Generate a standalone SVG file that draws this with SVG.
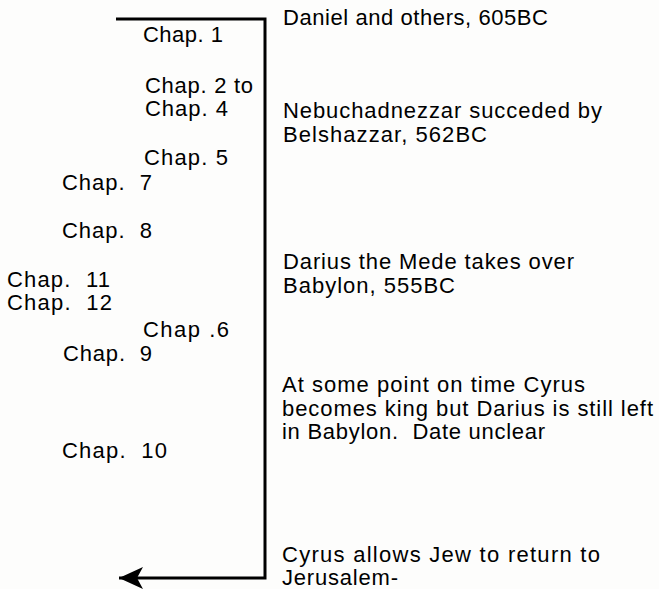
<svg xmlns="http://www.w3.org/2000/svg" width="659" height="589" viewBox="0 0 659 589" xml:space="preserve">
  <style>
    text { font-family: "Liberation Sans", Arial, sans-serif; font-size: 22px; fill: #000; white-space: pre; }
    .conn { fill: none; stroke: #000; stroke-width: 3; stroke-linejoin: miter; }
  </style>
  <defs>
    <marker id="arrow" markerUnits="userSpaceOnUse" markerWidth="26" markerHeight="24" refX="24" refY="11" orient="auto">
      <path d="M0,0 L24,11 L0,22 L6,11 Z" fill="#000"/>
    </marker>
  </defs>
  <rect width="659" height="589" fill="#fdfdfc"/>

  <!-- timeline bracket -->
  <g id="connectors">
    <path class="conn" d="M116,19 H265 V578 H119" marker-end="url(#arrow)"/>
  </g>

  <!-- chapter labels -->
  <g id="chap1"><text x="143" y="42" textLength="80" lengthAdjust="spacing">Chap. 1</text></g>
  <g id="chap2to4">
    <text x="145" y="93" textLength="108" lengthAdjust="spacing">Chap. 2 to</text>
    <text x="145" y="116" textLength="83" lengthAdjust="spacing">Chap. 4</text>
  </g>
  <g id="chap5"><text x="144" y="165" textLength="84" lengthAdjust="spacing">Chap. 5</text></g>
  <g id="chap7"><text x="62" y="190" textLength="90" lengthAdjust="spacing">Chap.  7</text></g>
  <g id="chap8"><text x="62" y="238" textLength="90" lengthAdjust="spacing">Chap.  8</text></g>
  <g id="chap11"><text x="7" y="287" textLength="103" lengthAdjust="spacing">Chap.  11</text></g>
  <g id="chap12"><text x="7" y="310" textLength="105" lengthAdjust="spacing">Chap.  12</text></g>
  <g id="chap6"><text x="143" y="337" textLength="86" lengthAdjust="spacing">Chap .6</text></g>
  <g id="chap9"><text x="63" y="361" textLength="89" lengthAdjust="spacing">Chap.  9</text></g>
  <g id="chap10"><text x="62" y="458" textLength="105" lengthAdjust="spacing">Chap.  10</text></g>

  <!-- events -->
  <g id="event-605"><text x="283" y="25" textLength="265" lengthAdjust="spacing">Daniel and others, 605BC</text></g>
  <g id="event-562">
    <text x="283" y="118" textLength="319" lengthAdjust="spacing">Nebuchadnezzar succeded by</text>
    <text x="283" y="142" textLength="204" lengthAdjust="spacing">Belshazzar, 562BC</text>
  </g>
  <g id="event-555">
    <text x="283" y="269" textLength="291" lengthAdjust="spacing">Darius the Mede takes over</text>
    <text x="283" y="293" textLength="172" lengthAdjust="spacing">Babylon, 555BC</text>
  </g>
  <g id="event-cyrus">
    <text x="282" y="392" textLength="303" lengthAdjust="spacing">At some point on time Cyrus</text>
    <text x="282" y="415.5" textLength="371" lengthAdjust="spacing">becomes king but Darius is still left</text>
    <text x="282" y="439" textLength="263" lengthAdjust="spacing">in Babylon.  Date unclear</text>
  </g>
  <g id="event-return">
    <text x="282" y="562" textLength="318" lengthAdjust="spacing">Cyrus allows Jew to return to</text>
    <text x="282" y="585" textLength="116" lengthAdjust="spacing">Jerusalem-</text>
  </g>
</svg>
